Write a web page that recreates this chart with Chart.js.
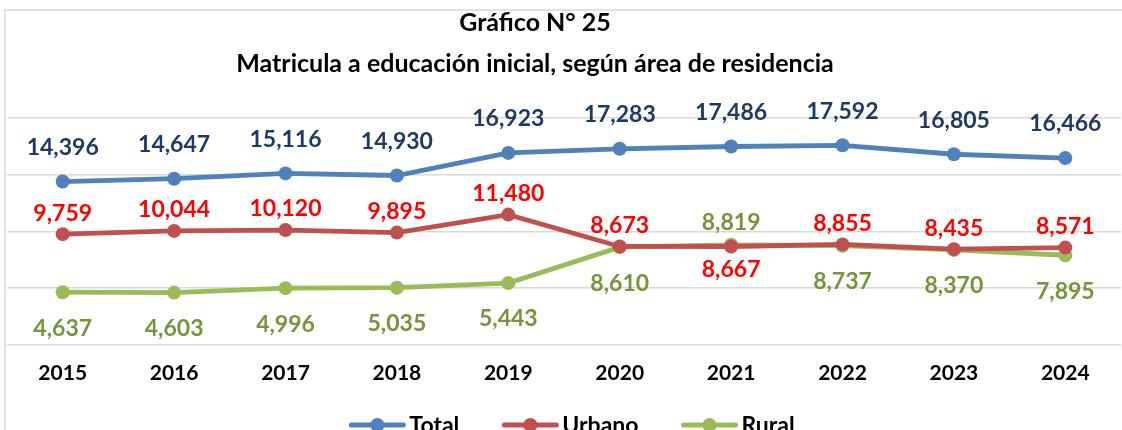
<!DOCTYPE html>
<html>

<head>
    <meta charset="utf-8">
    <title>Gráfico N° 25</title>
    <script src="https://cdn.jsdelivr.net/npm/chart.js"></script>
    <style>
        html,
        body {
            margin: 0;
            padding: 0;
            background: #fff;
            overflow: hidden;
        }

        #wrap {
            width: 1128px;
            height: 430px;
        }
    </style>
</head>

<body>
    <div id="wrap"><canvas id="lineChart" width="1128" height="430"></canvas></div>

    <script>
        // data
        const years = ['2015', '2016', '2017', '2018', '2019', '2020', '2021', '2022', '2023', '2024'];
        const total = [14396, 14647, 15116, 14930, 16923, 17283, 17486, 17592, 16805, 16466];
        const urbano = [9759, 10044, 10120, 9895, 11480, 8673, 8667, 8855, 8435, 8571];
        const rural = [4637, 4603, 4996, 5035, 5443, 8610, 8819, 8737, 8370, 7895];

        const FONT = 'Lato, "Open Sans", sans-serif';

        // light frame on the top and left, like the cropped excel chart
        const framePlugin = {
            id: 'frame',
            beforeDraw(chart) {
                const ctx = chart.ctx;
                ctx.save();
                ctx.strokeStyle = '#D9D9D9';
                ctx.lineWidth = 1.5;
                ctx.beginPath();
                ctx.moveTo(5, chart.height);
                ctx.lineTo(5, 10);
                ctx.lineTo(chart.width, 10);
                ctx.stroke();
                ctx.restore();
            }
        };

        const titlePlugin = {
            id: 'twoLineTitle',
            afterDraw(chart) {
                const ctx = chart.ctx;
                ctx.save();
                ctx.fillStyle = '#000';
                ctx.textAlign = 'center';
                ctx.textBaseline = 'middle';
                ctx.font = 'bold 25px ' + FONT;
                ctx.fillText('Gráfico N° 25', 535, 23);
                ctx.fillText('Matricula a educación inicial, según área de residencia', 535, 64);
                ctx.restore();
            }
        };

        // value labels above / below each point
        const valueLabels = {
            id: 'valueLabels',
            afterDatasetsDraw(chart) {
                const ctx = chart.ctx;
                ctx.save();
                ctx.font = 'bold 23px ' + FONT;
                ctx.textAlign = 'center';
                ctx.textBaseline = 'middle';
                chart.data.datasets.forEach((ds, i) => {
                    const meta = chart.getDatasetMeta(i);
                    ctx.fillStyle = ds.labelColor;
                    meta.data.forEach((pt, j) => {
                        const side = ds.labelSide[j];
                        const dy = side === 'up' ? ds.upOffset : ds.downOffset;
                        ctx.fillText(ds.data[j].toLocaleString('en-US'), pt.x, pt.y + dy);
                    });
                });
                ctx.restore();
            }
        };

        // legend drawn as line + marker, centred under the chart
        const lineLegend = {
            id: 'lineLegend',
            afterDraw(chart) {
                const ctx = chart.ctx;
                const y = 425;
                const lineW = 56, gap = 4, itemGap = 43;
                ctx.save();
                ctx.font = 'bold 23px ' + FONT;
                ctx.textBaseline = 'middle';
                const items = chart.data.datasets.map(ds => ({
                    ds,
                    w: lineW + gap + ctx.measureText(ds.label).width
                }));
                const fullW = items.reduce((s, it) => s + it.w, 0) + itemGap * (items.length - 1);
                let x = 572 - fullW / 2;
                items.forEach(it => {
                    ctx.strokeStyle = it.ds.borderColor;
                    ctx.lineWidth = 5;
                    ctx.lineCap = 'round';
                    ctx.beginPath();
                    ctx.moveTo(x + 2, y);
                    ctx.lineTo(x + lineW - 2, y);
                    ctx.stroke();
                    ctx.fillStyle = it.ds.borderColor;
                    ctx.beginPath();
                    ctx.arc(x + lineW / 2, y, 7, 0, Math.PI * 2);
                    ctx.fill();
                    ctx.fillStyle = '#000';
                    ctx.textAlign = 'left';
                    ctx.fillText(it.ds.label, x + lineW + gap, y + 1);
                    x += it.w + itemGap;
                });
                ctx.restore();
            }
        };

        const ctx = document.getElementById('lineChart').getContext('2d');

        new Chart(ctx, {
            type: 'line',
            data: {
                labels: years,
                datasets: [{
                    label: 'Total',
                    data: total,
                    borderColor: '#4F81BD',
                    backgroundColor: '#4F81BD',
                    labelColor: '#1F3864',
                    labelSide: total.map(() => 'up'),
                    upOffset: -34,
                    downOffset: 34
                }, {
                    label: 'Urbano',
                    data: urbano,
                    borderColor: '#C0504D',
                    backgroundColor: '#C0504D',
                    labelColor: '#FF0000',
                    labelSide: ['up', 'up', 'up', 'up', 'up', 'up', 'down', 'up', 'up', 'up'],
                    upOffset: -21,
                    downOffset: 23
                }, {
                    label: 'Rural',
                    data: rural,
                    borderColor: '#9BBB59',
                    backgroundColor: '#9BBB59',
                    labelColor: '#77933C',
                    labelSide: ['down', 'down', 'down', 'down', 'down', 'down', 'up', 'down', 'down', 'down'],
                    upOffset: -22,
                    downOffset: 36
                }]
            },
            options: {
                responsive: false,
                animation: false,
                elements: {
                    line: { borderWidth: 4.8, tension: 0 },
                    point: { radius: 7, hoverRadius: 7, borderWidth: 0 }
                },
                layout: { padding: { top: 118, left: 6, right: 0, bottom: 36 } },
                plugins: {
                    legend: { display: false },
                    title: { display: false },
                    tooltip: { enabled: false }
                },
                scales: {
                    x: {
                        offset: true,
                        grid: { display: false },
                        border: { display: false },
                        ticks: {
                            color: '#000',
                            padding: 8,
                            font: { family: FONT, size: 21, weight: 'bold' }
                        }
                    },
                    y: {
                        min: 0,
                        max: 20000,
                        ticks: { stepSize: 5000, display: false },
                        grid: { color: '#D9D9D9', lineWidth: 1.5, drawTicks: false },
                        border: { display: false }
                    }
                }
            },
            plugins: [framePlugin, valueLabels, titlePlugin, lineLegend]
        });
    </script>
</body>

</html>
